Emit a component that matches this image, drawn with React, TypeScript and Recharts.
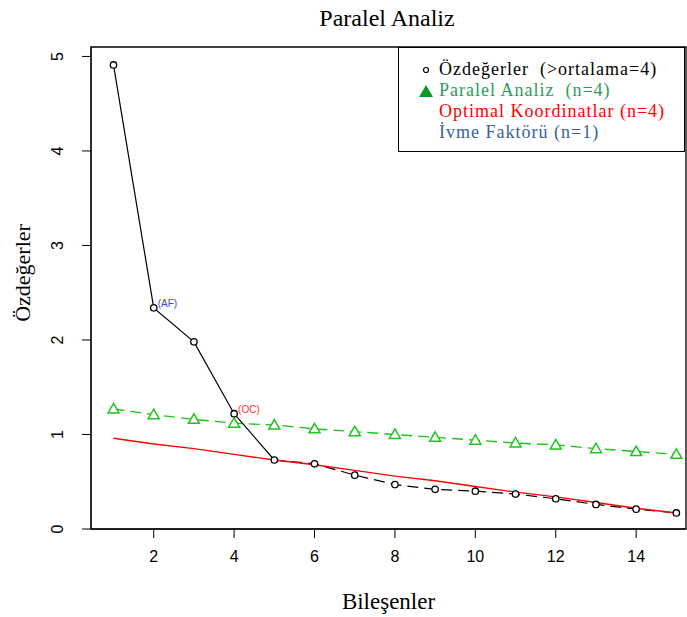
import {
  ComposedChart,
  Line,
  XAxis,
  YAxis,
  ReferenceArea,
  ReferenceDot,
} from "recharts";

const components = [1, 2, 3, 4, 5, 6, 7, 8, 9, 10, 11, 12, 13, 14, 15];
const eigenvalues = [4.91, 2.34, 1.98, 1.22, 0.73, 0.69, 0.57, 0.47, 0.42, 0.4, 0.37, 0.32, 0.26, 0.21, 0.17];
const parallelAnalysis = [1.27, 1.21, 1.16, 1.12, 1.1, 1.06, 1.03, 1.0, 0.97, 0.94, 0.91, 0.89, 0.85, 0.82, 0.79];
const optimalCoords = [0.96, 0.9, 0.85, 0.79, 0.73, 0.68, 0.62, 0.56, 0.51, 0.45, 0.39, 0.34, 0.28, 0.22, 0.17];
const xTicks = [2, 4, 6, 8, 10, 12, 14];
const yTicks = [0, 1, 2, 3, 4, 5];

const legendItems = [
  { label: "Özdeğerler  (>ortalama=4)", color: "#000000", symbol: "circle" },
  { label: "Paralel Analiz  (n=4)", color: "#2a9d5a", symbol: "triangle" },
  { label: "Optimal Koordinatlar (n=4)", color: "#ff0000", symbol: "none" },
  { label: "İvme Faktörü (n=1)", color: "#3a5f9e", symbol: "none" },
];

const GREEN = "#1fc41f";
const SERIF = "'Liberation Serif', 'Times New Roman', serif";
const SANS = "'Liberation Sans', Arial, sans-serif";

const data = components.map((c, i) => ({
  x: c,
  eig: eigenvalues[i],
  eigSolid: i <= 4 ? eigenvalues[i] : null,
  eigDash: i >= 4 ? eigenvalues[i] : null,
  pa: parallelAnalysis[i],
  oc: optimalCoords[i],
}));

function CircleDot({ cx, cy }: { cx?: number; cy?: number }) {
  if (cx == null || cy == null) return null;
  return <circle cx={cx} cy={cy} r={3.2} fill="#fff" stroke="#000" strokeWidth={1.3} />;
}

function TriangleDot({ cx, cy }: { cx?: number; cy?: number }) {
  if (cx == null || cy == null) return null;
  return (
    <path
      d={`M${cx},${cy - 5.5} L${cx + 5.5},${cy + 4} L${cx - 5.5},${cy + 4} Z`}
      fill="#fff"
      stroke={GREEN}
      strokeWidth={1.5}
    />
  );
}

function YTick({ x, y, payload }: { x?: number; y?: number; payload?: { value: number } }) {
  if (x == null || y == null || !payload) return null;
  const tx = x - 11;
  return (
    <text
      x={tx}
      y={y}
      transform={`rotate(-90 ${tx} ${y})`}
      textAnchor="middle"
      fontFamily={SANS}
      fontSize={16}
      fill="#000"
    >
      {payload.value}
    </text>
  );
}

// R puts the y title a bit above the plot centre
function YTitle() {
  return (
    <text
      x={30}
      y={273}
      transform="rotate(-90 30 273)"
      textAnchor="middle"
      fontFamily={SERIF}
      fontSize={22}
      fill="#000"
    >
      Özdeğerler
    </text>
  );
}

function LegendBox() {
  return (
    <div
      style={{
        position: "absolute",
        left: 398,
        top: 47,
        width: 287,
        height: 105,
        border: "1.5px solid #000",
        background: "#fff",
        boxSizing: "border-box",
        padding: "11px 0 0 14px",
        fontFamily: SERIF,
        fontSize: 18,
        letterSpacing: 1,
        lineHeight: "21px",
      }}
    >
      {legendItems.map((item) => (
        <div key={item.label} style={{ display: "flex", alignItems: "center", color: item.color, whiteSpace: "pre" }}>
          <span style={{ width: 26, display: "inline-flex", justifyContent: "center" }}>
            {item.symbol === "circle" && (
              <svg width={10} height={10}>
                <circle cx={5} cy={5} r={2.5} fill="none" stroke="#000" strokeWidth={1.2} />
              </svg>
            )}
            {item.symbol === "triangle" && (
              <svg width={14} height={12}>
                <path d="M7,0 L14,12 L0,12 Z" fill="#0a9a2a" />
              </svg>
            )}
          </span>
          <span>{item.label}</span>
        </div>
      ))}
    </div>
  );
}

export default function App() {
  return (
    <div style={{ position: "absolute", left: 0, top: 0, width: 687, height: 617, background: "#fff" }}>
      <div
        style={{
          position: "absolute",
          left: 0,
          width: 774,
          top: 6,
          textAlign: "center",
          fontFamily: SERIF,
          fontSize: 24,
          lineHeight: "24px",
          color: "#000",
        }}
      >
        Paralel Analiz
      </div>
      <ComposedChart
        width={687}
        height={617}
        data={data}
        margin={{ top: 47, right: 1, bottom: 0, left: 0 }}
      >
        <XAxis
          dataKey="x"
          type="number"
          domain={[0.44, 15.24]}
          ticks={xTicks}
          allowDataOverflow
          height={88}
          tickSize={9}
          tickMargin={13}
          stroke="#000"
          tick={{ fill: "#000", fontFamily: SANS, fontSize: 16 }}
          label={{
            value: "Bileşenler",
            position: "insideTop",
            offset: 64,
            fill: "#000",
            fontFamily: SERIF,
            fontSize: 23,
          }}
        />
        <YAxis
          type="number"
          domain={[0, 5.1]}
          ticks={yTicks}
          allowDataOverflow
          width={91}
          tickSize={9}
          tickMargin={8}
          stroke="#000"
          tick={<YTick />}
          label={{ content: <YTitle /> }}
        />
        <ReferenceArea
          x1={0.44}
          x2={15.24}
          y1={0}
          y2={5.1}
          fill="none"
          stroke="#000"
          strokeWidth={1.3}
          ifOverflow="extendDomain"
        />
        <Line
          dataKey="pa"
          stroke={GREEN}
          strokeWidth={1.4}
          strokeDasharray="11 6"
          dot={<TriangleDot />}
          isAnimationActive={false}
        />
        <Line
          dataKey="eigSolid"
          stroke="#000"
          strokeWidth={1.2}
          dot={false}
          connectNulls={false}
          isAnimationActive={false}
        />
        <Line
          dataKey="eigDash"
          stroke="#000"
          strokeWidth={1.2}
          strokeDasharray="11 6"
          dot={false}
          connectNulls={false}
          isAnimationActive={false}
        />
        <Line
          dataKey="oc"
          stroke="#ff0000"
          strokeWidth={1.4}
          dot={false}
          isAnimationActive={false}
        />
        <Line
          dataKey="eig"
          stroke="none"
          dot={<CircleDot />}
          isAnimationActive={false}
        />
        <ReferenceDot
          x={components[1]}
          y={eigenvalues[1]}
          r={0}
          label={{ value: "(AF)", position: "right", offset: 4, fill: "#3a3aff", fontFamily: SANS, fontSize: 10, dy: -4 }}
        />
        <ReferenceDot
          x={components[3]}
          y={eigenvalues[3]}
          r={0}
          label={{ value: "(OC)", position: "right", offset: 4, fill: "#ff3030", fontFamily: SANS, fontSize: 10, dy: -4 }}
        />
      </ComposedChart>
      <LegendBox />
    </div>
  );
}
